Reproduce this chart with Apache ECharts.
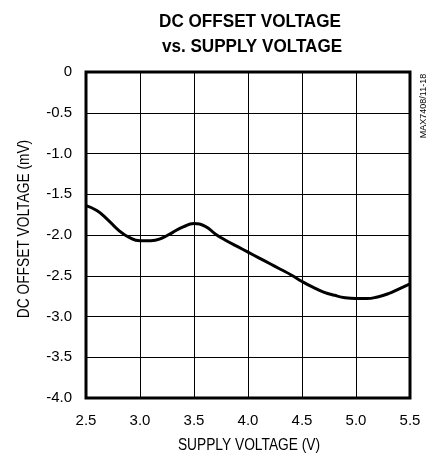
<!DOCTYPE html>
<html>
<head>
<meta charset="utf-8">
<script src="https://cdn.jsdelivr.net/npm/echarts@6/dist/echarts.min.js"></script>
<style>
  html, body { margin: 0; padding: 0; background: #fff; }
  #chart { width: 432px; height: 456px; }
</style>
</head>
<body>
<div id="chart"></div>
<script>
// supply voltage (V) and dc offset (mV)
var supplyV = [2.5, 2.6, 2.7, 2.8, 2.9, 3.0, 3.1, 3.2, 3.3, 3.4, 3.5, 3.6, 3.7, 3.8, 3.9, 4.0,
  4.1, 4.2, 4.3, 4.4, 4.5, 4.6, 4.7, 4.8, 4.9, 5.0, 5.1, 5.2, 5.3, 5.4, 5.5];
var offsetMv = [-1.64, -1.70, -1.81, -1.94, -2.03, -2.07, -2.07, -2.04, -1.97, -1.90, -1.86, -1.89, -1.99, -2.07, -2.14, -2.21,
  -2.28, -2.35, -2.42, -2.49, -2.57, -2.64, -2.70, -2.74, -2.77, -2.78, -2.78, -2.76, -2.72, -2.66, -2.60];

var xTicks = { min: 2.5, max: 5.5, step: 0.5 };
var yTicks = { min: -4, max: 0, step: 0.5 };

var titleLines = ['DC OFFSET VOLTAGE', 'vs. SUPPLY VOLTAGE'];
var xName = 'SUPPLY VOLTAGE (V)';
var yName = 'DC OFFSET VOLTAGE (mV)';
var partNo = 'MAX7408/11-18';

var font = '"Liberation Sans", Arial, sans-serif';

var points = [];
for (var i = 0; i < supplyV.length; i++) {
  points.push([supplyV[i], offsetMv[i]]);
}

// condensed-looking text: squeeze horizontally like the datasheet font
function squeezedText(str, x, y, size, bold, rot) {
  return {
    type: 'text', x: x, y: y, rotation: rot || 0, scaleX: 0.86,
    style: {
      text: str, fontFamily: font, fontSize: size, fontWeight: bold ? 'bold' : 'normal',
      fill: '#000', align: 'center', verticalAlign: 'middle'
    }
  };
}

var titleA = squeezedText(titleLines[0], 250, 22, 18, true);
var titleB = squeezedText(titleLines[1], 252, 47, 18, true);
titleA.scaleX = 0.95;
titleB.scaleX = 0.95;

var chart = echarts.init(document.getElementById('chart'));
var option = {
  animation: false,
  backgroundColor: '#fff',
  grid: {
    left: 86, right: 22, top: 72, bottom: 58,
    show: true, borderColor: '#000', borderWidth: 3
  },
  xAxis: {
    type: 'value',
    min: xTicks.min, max: xTicks.max, interval: xTicks.step,
    axisLine: { show: false },
    axisTick: { show: false },
    axisLabel: {
      margin: 15, fontFamily: font, fontSize: 15, color: '#000',
      formatter: function (v) { return v.toFixed(1); }
    },
    splitLine: { show: true, lineStyle: { color: '#000', width: 1 } }
  },
  yAxis: {
    type: 'value',
    min: yTicks.min, max: yTicks.max, interval: yTicks.step,
    axisLine: { show: false },
    axisTick: { show: false },
    axisLabel: {
      margin: 14, fontFamily: font, fontSize: 15, color: '#000',
      formatter: function (v) { return v === 0 ? '0' : v.toFixed(1); }
    },
    splitLine: { show: true, lineStyle: { color: '#000', width: 1 } }
  },
  graphic: [
    titleA,
    titleB,
    squeezedText(xName, 249, 446, 16, false),
    squeezedText(yName, 25, 229, 16, false, Math.PI / 2),
    {
      type: 'text', x: 424, y: 106, rotation: Math.PI / 2,
      style: {
        text: partNo, fontFamily: font, fontSize: 9,
        fill: '#000', align: 'center', verticalAlign: 'middle'
      }
    }
  ],
  series: [
    {
      type: 'line',
      data: points,
      smooth: true,
      symbol: 'none',
      lineStyle: { color: '#000', width: 3 }
    }
  ]
};
chart.setOption(option);
</script>
</body>
</html>
